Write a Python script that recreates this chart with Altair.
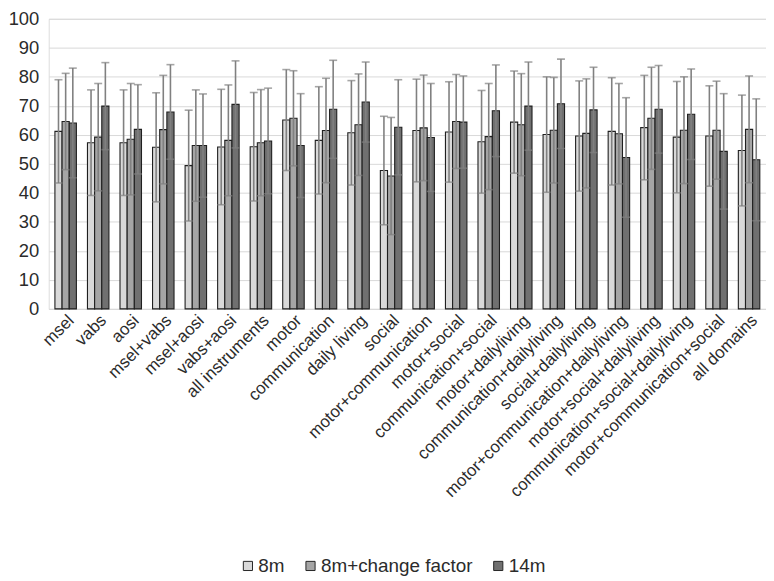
import altair as alt
import pandas as pd

categories = [
    "msel", "vabs", "aosi", "msel+vabs", "msel+aosi", "vabs+aosi",
    "all instruments", "motor", "communication", "daily living", "social",
    "motor+communication", "motor+social", "communication+social",
    "motor+dailyliving", "communication+dailyliving", "social+dailyliving",
    "motor+communication+dailyliving", "motor+social+dailyliving",
    "communication+social+dailyliving", "motor+communication+social",
    "all domains",
]
series = ["8m", "8m+change factor", "14m"]

mean_8m = [61.2, 57.3, 57.3, 55.7, 49.4, 55.8, 55.9, 65.1, 58.1, 60.7, 47.7,
           61.5, 61.0, 57.6, 64.4, 60.1, 59.6, 61.2, 62.5, 59.2, 59.6, 54.6]
mean_cf = [64.6, 59.2, 58.5, 61.8, 56.3, 58.1, 57.3, 65.7, 61.5, 63.5, 45.8,
           62.4, 64.6, 59.4, 63.5, 61.6, 60.5, 60.4, 65.7, 61.6, 61.6, 61.9]
mean_14m = [64.1, 69.9, 61.9, 67.9, 56.3, 70.5, 57.9, 56.3, 68.8, 71.3, 62.6,
            59.1, 64.4, 68.3, 69.9, 70.7, 68.6, 52.2, 68.8, 67.1, 54.3, 51.4]

sd_8m = [17.8, 18.2, 18.2, 18.8, 19.1, 19.9, 18.7, 17.4, 18.5, 18.0, 18.7,
         17.7, 17.3, 17.7, 17.6, 19.9, 19.0, 18.5, 18.0, 19.2, 17.3, 19.1]
sd_cf = [16.6, 18.5, 19.2, 18.7, 19.2, 19.1, 18.3, 16.4, 18.0, 17.5, 20.2,
         18.2, 16.2, 18.3, 17.6, 18.2, 18.8, 17.3, 17.6, 18.4, 16.9, 18.4]
sd_14m = [18.9, 15.0, 15.4, 16.3, 17.8, 15.0, 18.2, 17.9, 16.9, 13.8, 16.4,
          18.6, 15.9, 15.8, 15.2, 15.4, 14.7, 20.6, 15.1, 15.6, 19.9, 21.0]

y_ticks = [0, 10, 20, 30, 40, 50, 60, 70, 80, 90, 100]

colors = ["#d9d9d9", "#a5a5a5", "#707070"]

rows = []
for s, means, sds in zip(series, [mean_8m, mean_cf, mean_14m], [sd_8m, sd_cf, sd_14m]):
    for c, m, d in zip(categories, means, sds):
        rows.append({"category": c, "series": s, "mean": m,
                     "lo": m - d, "hi": m + d})
df = pd.DataFrame(rows)

FONT = "Liberation Sans"
TXT = "#2b2b2b"

y_axis = alt.Axis(title=None, values=y_ticks, labelFontSize=18.5,
                  labelFont=FONT, labelColor=TXT, labelPadding=10,
                  labelOverlap=False, ticks=False, domain=False,
                  grid=True, gridColor="#d9d9d9", gridWidth=1)
y_scale = alt.Scale(domain=[0, 100], nice=False)

base = alt.Chart(df).encode(
    x=alt.X("category:N", sort=categories,
            scale=alt.Scale(paddingInner=0.34, paddingOuter=0.19),
            axis=alt.Axis(title=None, labelAngle=-45, labelFontSize=17,
                          labelFont=FONT, labelColor=TXT, labelAlign="right",
                          labelBaseline="top", labelPadding=3, labelLimit=400,
                          ticks=False, grid=False, domainColor="#d9d9d9",
                          domainWidth=1)),
    xOffset=alt.XOffset("series:N", sort=series,
                        scale=alt.Scale(paddingInner=0, paddingOuter=0)),
)

bars = base.mark_bar(stroke="#1f1f1f", strokeWidth=1.1).encode(
    y=alt.Y("mean:Q", scale=y_scale, axis=y_axis),
    color=alt.Color("series:N", sort=series,
                    scale=alt.Scale(domain=series, range=colors),
                    legend=alt.Legend(title=None, orient="none",
                                      legendX=191, legendY=541,
                                      direction="horizontal",
                                      labelFontSize=19, labelFont=FONT,
                                      labelColor=TXT, symbolType="square",
                                      symbolSize=85,
                                      symbolStrokeColor="#262626",
                                      symbolStrokeWidth=1,
                                      columnPadding=16, labelOffset=1,
                                      padding=0)),
)

rules = base.mark_rule(color="#808080", strokeWidth=1.6).encode(
    y=alt.Y("lo:Q", scale=y_scale, axis=y_axis), y2="hi:Q")
cap_hi = base.mark_tick(color="#808080", orient="horizontal", size=8,
                        thickness=1.6).encode(
    y=alt.Y("hi:Q", scale=y_scale, axis=y_axis))
cap_lo = base.mark_tick(color="#808080", orient="horizontal", size=8,
                        thickness=1.6).encode(
    y=alt.Y("lo:Q", scale=y_scale, axis=y_axis))

chart = alt.layer(bars, rules, cap_hi, cap_lo).properties(
    width=722, height=292,
    padding={"left": 0, "top": 0, "right": 0, "bottom": 0},
).configure_view(stroke=None).configure(background="white")

chart.save("out.html", embed_options={"renderer": "svg", "actions": False})
